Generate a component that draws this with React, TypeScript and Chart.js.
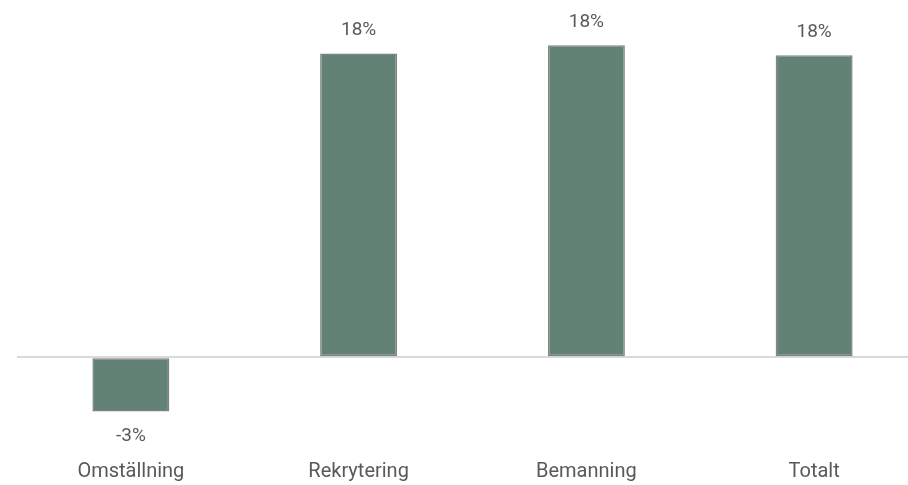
import React, { useEffect, useRef } from "react";
import { Chart, registerables } from "chart.js";

Chart.register(...registerables);

const categories = ["Omställning", "Rekrytering", "Bemanning", "Totalt"];
const values = [-3.2, 17.9, 18.4, 17.8];

const TEXT = "#595959";

const labelPlugin = {
  id: "barLabels",
  afterDatasetsDraw(chart: any) {
    const { ctx } = chart;
    const meta = chart.getDatasetMeta(0);
    ctx.save();
    ctx.font = "400 19px Roboto";
    ctx.fillStyle = TEXT;
    ctx.textAlign = "center";
    ctx.textBaseline = "middle";
    meta.data.forEach((bar: any, i: number) => {
      const v = values[i];
      const txt = Math.round(v) + "%";
      const y = v >= 0 ? bar.y - 23 : bar.y + 25;
      ctx.fillText(txt, bar.x, y);
    });
    ctx.restore();
  },
};

export default function App() {
  const ref = useRef<HTMLCanvasElement>(null);
  useEffect(() => {
    if (!ref.current) return;
    const chart = new Chart(ref.current, {
      type: "bar",
      data: {
        labels: categories,
        datasets: [
          {
            data: values,
            backgroundColor: "#628275",
            borderColor: "#7f8480",
            borderWidth: 1.5,
            borderSkipped: false,
            categoryPercentage: 1,
            barPercentage: 0.338,
          },
        ],
      },
      options: {
        animation: false,
        responsive: false,
        maintainAspectRatio: false,
        layout: { padding: { left: 17, right: 0, top: 18, bottom: 0 } },
        plugins: { legend: { display: false }, tooltip: { enabled: false } },
        scales: {
          x: {
            grid: { display: false, drawTicks: false },
            border: { display: false },
            ticks: {
              color: TEXT,
              font: { family: "Roboto", size: 20, weight: "400" as any },
              padding: 35,
              maxRotation: 0,
              autoSkip: false,
            },
            afterFit(scale: any) {
              scale.height = 60;
            },
          },
          y: {
            min: -4,
            max: 20,
            ticks: { display: false, stepSize: 2 },
            border: { display: false },
            grid: {
              drawTicks: false,
              lineWidth: 2,
              color: (c: any) => (c.tick && c.tick.value === 0 ? "#d9d9d9" : "rgba(0,0,0,0)"),
            },
            afterFit(scale: any) {
              scale.width = 0;
            },
          },
        },
      },
      plugins: [labelPlugin],
    });
    return () => chart.destroy();
  }, []);
  return (
    <div style={{ position: "fixed", left: 0, top: 0, width: 908, height: 485, overflow: "hidden", background: "#fff" }}>
      <canvas ref={ref} width={928} height={485} style={{ display: "block" }} />
    </div>
  );
}
